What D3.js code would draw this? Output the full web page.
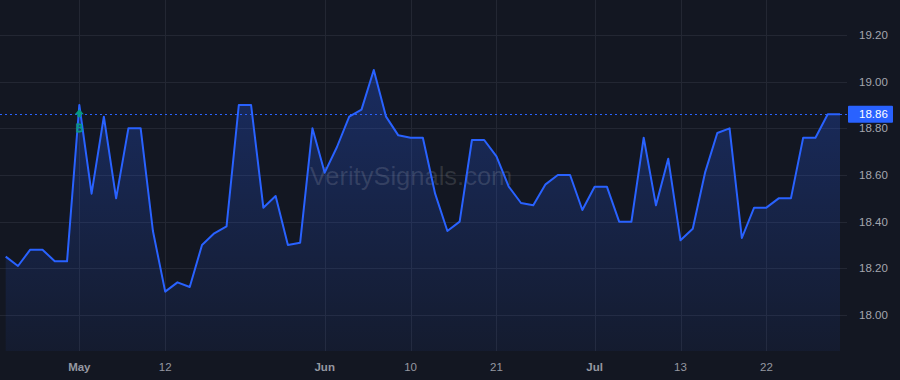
<!DOCTYPE html>
<html><head><meta charset="utf-8">
<script src="https://cdn.jsdelivr.net/npm/d3@7"></script>
<style>html,body{margin:0;padding:0;background:#131722;}svg{display:block;}</style>
</head><body>
<svg id="c" width="900" height="380"></svg>
<script>
const values = [18.25,18.21,18.28,18.28,18.23,18.23,18.90,18.52,18.85,18.50,
18.80,18.80,18.36,18.10,18.14,18.12,18.30,18.35,18.38,18.90,
18.90,18.46,18.51,18.30,18.31,18.80,18.61,18.72,18.85,18.88,
19.05,18.85,18.77,18.76,18.76,18.52,18.36,18.40,18.75,18.75,
18.68,18.55,18.48,18.47,18.56,18.60,18.60,18.45,18.55,18.55,
18.40,18.40,18.76,18.47,18.67,18.32,18.37,18.61,18.78,18.80,
18.33,18.46,18.46,18.50,18.50,18.76,18.76,18.86,18.86];
const xTickIdx = [6,13,26,33,40,48,55,62];
const xTickLabels = ["May","12","Jun","10","21","Jul","13","22"];
const xTickBold = [true,false,true,false,false,true,false,false];
const yTicks = [18.00,18.20,18.40,18.60,18.80,19.00,19.20];
const lastValue = 18.86;
const signalIdx = 6;
const signalValue = 18.86;
const signalText = "B";
const watermark = "VeritySignals.com";

const W=900,H=380, plotR=847, plotB=351;
const svg=d3.select("#c");
const x=d3.scaleLinear().domain([0,values.length-1]).range([5.7,840]);
const y=d3.scaleLinear().domain([18,19.2]).range([315,35]);

svg.append("rect").attr("width",W).attr("height",H).attr("fill","#131722");

const defs=svg.append("defs");
const g=defs.append("linearGradient").attr("id","fill").attr("x1",0).attr("y1",0).attr("x2",0).attr("y2",1);
g.append("stop").attr("offset","0%").attr("stop-color","#2962ff").attr("stop-opacity",0.28);
g.append("stop").attr("offset","100%").attr("stop-color","#2962ff").attr("stop-opacity",0.06);

// grid
const grid=svg.append("g").attr("stroke","#232733").attr("stroke-width",1);
yTicks.forEach(t=>grid.append("line").attr("x1",0).attr("x2",plotR).attr("y1",Math.round(y(t))+0.5).attr("y2",Math.round(y(t))+0.5));
xTickIdx.forEach(i=>grid.append("line").attr("y1",0).attr("y2",plotB).attr("x1",Math.round(x(i))+0.5).attr("x2",Math.round(x(i))+0.5));

// area + line
const area=d3.area().x((d,i)=>x(i)).y0(plotB).y1(d=>y(d));
svg.append("path").datum(values).attr("d",area).attr("fill","url(#fill)");

// watermark
svg.append("text").attr("x",411).attr("y",185).attr("text-anchor","middle")
 .attr("font-family","Liberation Sans, Arial, sans-serif").attr("font-size",25.5)
 .attr("fill","rgba(255,255,255,0.13)").text(watermark);

const line=d3.line().x((d,i)=>x(i)).y(d=>y(d));
svg.append("path").datum(values).attr("d",line).attr("fill","none")
 .attr("stroke","#2962ff").attr("stroke-width",2).attr("stroke-linejoin","round");

// last value dotted line
svg.append("line").attr("x1",0).attr("x2",plotR).attr("y1",Math.round(y(lastValue))+0.5).attr("y2",Math.round(y(lastValue))+0.5)
 .attr("stroke","#2962ff").attr("stroke-width",1).attr("stroke-dasharray","2,3");

// signal marker
const sx=x(signalIdx), sy=y(signalValue);
svg.append("path").attr("d",`M${sx},${sy-5} L${sx+4.5},${sy} L${sx+1.8},${sy} L${sx+1.8},${sy+3} L${sx-1.8},${sy+3} L${sx-1.8},${sy} L${sx-4.5},${sy} Z`)
 .attr("fill","#089981");
svg.append("text").attr("x",sx).attr("y",sy+18).attr("text-anchor","middle")
 .attr("font-family","Liberation Sans, Arial, sans-serif").attr("font-size",11)
 .attr("fill","none").attr("stroke","#089981").attr("stroke-width",0.8).text(signalText);

// y axis labels
const axFont="Liberation Sans, Arial, sans-serif";
yTicks.forEach(t=>svg.append("text").attr("x",859).attr("y",y(t)+4).attr("font-family",axFont)
 .attr("font-size",11.5).attr("fill","#a3a6af").text(t.toFixed(2)));

// last value label
const ly=y(lastValue);
svg.append("rect").attr("x",848).attr("y",ly-8.5).attr("width",45).attr("height",17).attr("fill","#2962ff").attr("rx",1);
svg.append("text").attr("x",859).attr("y",ly+4).attr("font-family",axFont).attr("font-size",11.5)
 .attr("fill","#ffffff").text(lastValue.toFixed(2));

// x labels
xTickIdx.forEach((i,k)=>svg.append("text").attr("x",x(i)).attr("y",371).attr("text-anchor","middle")
 .attr("font-family",axFont).attr("font-size",11.5).attr("font-weight",xTickBold[k]?"bold":"normal")
 .attr("fill","#9598a1").text(xTickLabels[k]));
</script>
</body></html>
